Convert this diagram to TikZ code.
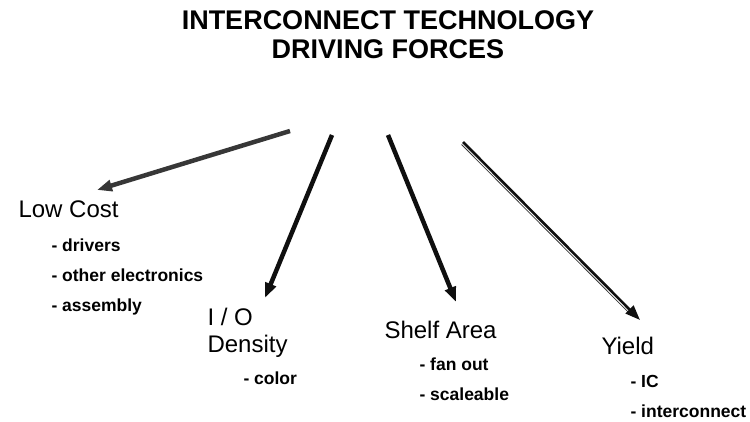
\documentclass[tikz,border=0pt]{standalone}
\usepackage{fontspec}
\setmainfont{Liberation Sans}
\usetikzlibrary{arrows.meta}
\definecolor{ink}{RGB}{15, 15, 15}
\definecolor{speckle}{RGB}{55, 55, 55}
\tikzset{
  force/.style={line width=4.5pt, draw=ink, -{Triangle[length=15pt, width=11pt]}},
  headline/.style={anchor=base, font=\bfseries\fontsize{27}{32}\selectfont},
  cause/.style={anchor=base west, font=\fontsize{24}{28}\selectfont},
  item/.style={anchor=base west, font=\bfseries\fontsize{17.5}{21}\selectfont},
}

\begin{document}
\begin{tikzpicture}[x=1pt, y=-1pt]

  \useasboundingbox (0, 0) rectangle (750, 422);

  \node[headline] (title) at (388, 30) {INTERCONNECT TECHNOLOGY};
  \node[headline] (subtitle) at (388, 59) {DRIVING FORCES};

  \node[cause] (cost) at (15, 218) {Low Cost};
  \node[item] (drivers) at (48, 252) {- drivers};
  \node[item] (electronics) at (48, 282) {- other electronics};
  \node[item] (assembly) at (48, 312) {- assembly};

  \node[cause] (io) at (204, 325) {I / O};
  \node[cause] (density) at (204, 352) {Density};
  \node[item] (color) at (240, 384) {- color};

  \node[cause] (shelf) at (381, 338) {Shelf Area};
  \node[item] (fanout) at (416, 370) {- fan out};
  \node[item] (scaleable) at (416, 400) {- scaleable};

  \node[cause] (yield) at (598, 354) {Yield};
  \node[item] (ic) at (627, 387) {- IC};
  \node[item] (interconnect) at (627, 417) {- interconnect};

  % the four forces fan out from under the title
  \coordinate (cost-from) at (290, 131);
  \coordinate (cost-to) at (97, 190);
  \coordinate (io-from) at (332, 135);
  \coordinate (io-to) at (265, 298);
  \coordinate (shelf-from) at (388, 135);
  \coordinate (shelf-to) at (456, 302);
  \coordinate (yield-from) at (463, 142);
  \coordinate (yield-to) at (640, 320);

  \draw[force, draw=speckle, fill=ink] (cost-from) -- (cost-to);
  \draw[force] (io-from) -- (io-to);
  \draw[force] (shelf-from) -- (shelf-to);

  \draw[speckle, line width=0.8pt, shorten >=14pt] ([shift={(-1.5, 2.5)}]yield-from) -- ([shift={(-1.5, 2.5)}]yield-to);
  \draw[force, line width=2.6pt, fill=speckle] (yield-from) -- (yield-to);

\end{tikzpicture}
\end{document}
